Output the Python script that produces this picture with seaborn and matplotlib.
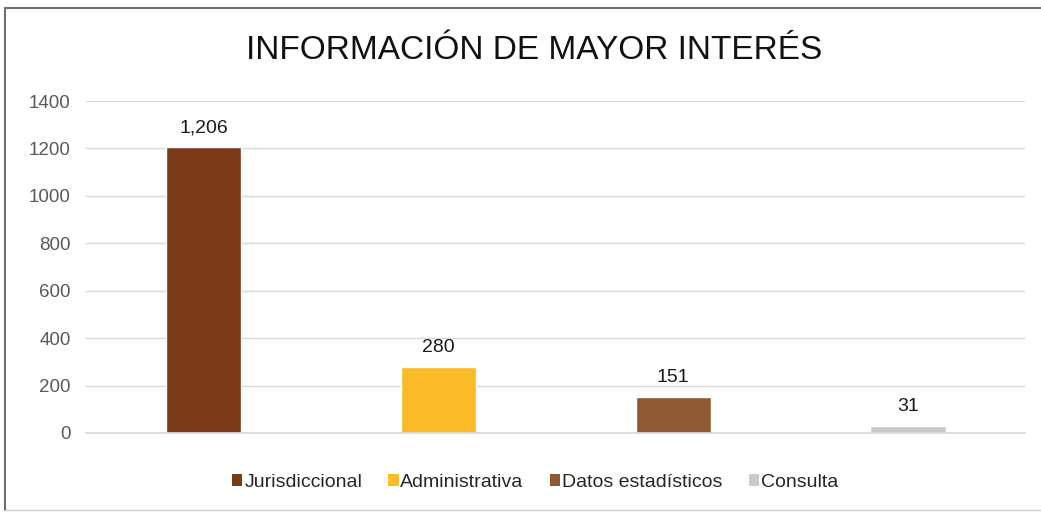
import matplotlib
matplotlib.use("Agg")
import matplotlib.pyplot as plt
import seaborn as sns
import pandas as pd
from matplotlib.patches import Patch
from matplotlib.lines import Line2D
from matplotlib import font_manager

categories = ["Jurisdiccional", "Administrativa", "Datos estadísticos", "Consulta"]
values = [1206, 280, 151, 31]
value_labels = ["1,206", "280", "151", "31"]
colors = ["#7A3917", "#FBBA27", "#8E5A33", "#C9C9C9"]
yticks = [0, 200, 400, 600, 800, 1000, 1200, 1400]

sns.set_theme(style="white")
names = {f.name for f in font_manager.fontManager.ttflist}
base = "Liberation Sans" if "Liberation Sans" in names else "DejaVu Sans"
narrow = "Liberation Sans Narrow" if "Liberation Sans Narrow" in names else base
plt.rcParams["font.family"] = [base, "DejaVu Sans"]

df = pd.DataFrame({"cat": categories, "val": values})

fig = plt.figure(figsize=(10.41, 5.12), dpi=100)
ax = fig.add_axes([0.0826, 0.1543, 0.9024, 0.6484])

sns.barplot(data=df, x="cat", y="val", hue="cat", palette=colors,
            dodge=False, width=0.32, legend=False, ax=ax, saturation=1)

ax.set_ylim(0, 1400)
ax.set_yticks(yticks)
ax.set_yticklabels([str(t) for t in yticks], color="#595959", fontsize=13.5)
ax.set_xlim(-0.5, 3.5)
ax.set_xticks([])
ax.set_xlabel("")
ax.set_ylabel("")
ax.yaxis.grid(True, color="#D9D9D9", linewidth=1)
ax.set_axisbelow(True)
for s in ["left", "right", "top"]:
    ax.spines[s].set_visible(False)
ax.spines["bottom"].set_color("#D9D9D9")
ax.tick_params(axis="y", length=0, pad=11)

for i, (v, lab) in enumerate(zip(values, value_labels)):
    ax.text(i, v + 63, lab, ha="center", va="baseline", fontsize=14, color="#1a1a1a")

fig.text(0.513, 0.902, "INFORMACIÓN DE MAYOR INTERÉS", ha="center", va="center",
         fontsize=24, color="#111111", family=[narrow, "DejaVu Sans"])

handles = [Patch(facecolor=c, edgecolor="none") for c in colors]
fig.legend(handles, categories, loc="center", bbox_to_anchor=(0.514, 0.058),
           ncol=4, frameon=False, fontsize=14, handlelength=0.52, handleheight=0.52,
           handletextpad=0.1, columnspacing=1.35)

# outer frame
fig.add_artist(Line2D([0.005, 1.0], [0.984, 0.984], transform=fig.transFigure,
                      color="#6F6F6F", linewidth=1.5))
fig.add_artist(Line2D([0.005, 0.005], [0.004, 0.984], transform=fig.transFigure,
                      color="#6F6F6F", linewidth=1.5))
fig.add_artist(Line2D([0.005, 1.0], [0.004, 0.004], transform=fig.transFigure,
                      color="#D0D0D0", linewidth=1))

fig.savefig("out.png", dpi=100, facecolor="white")
